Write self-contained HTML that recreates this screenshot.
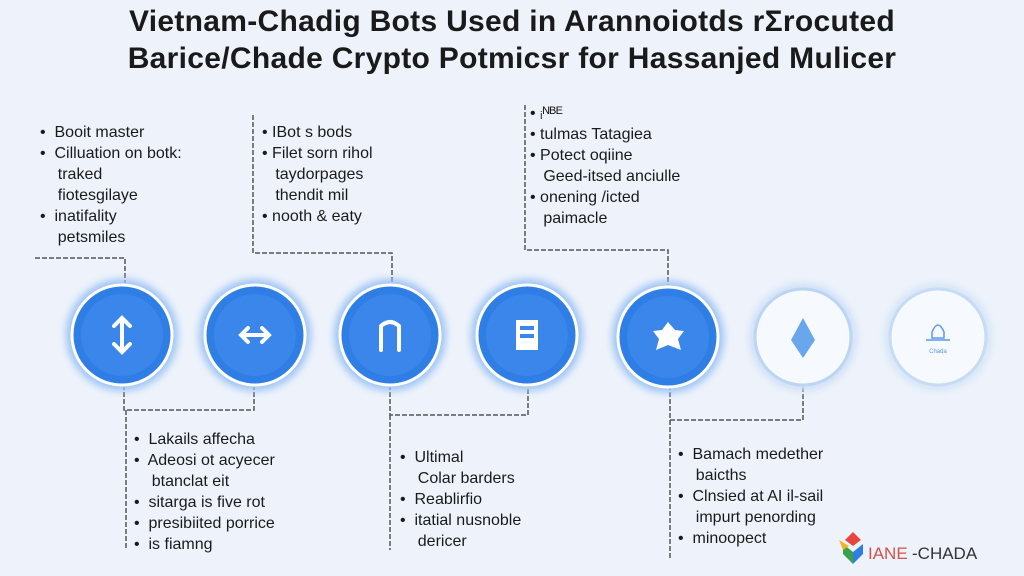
<!DOCTYPE html>
<html><head><style>
body{margin:0;width:1024px;height:576px;background:#eef3fb;font-family:"Liberation Sans",sans-serif;overflow:hidden;position:relative}
h1{position:absolute;top:0;left:0;width:1024px;margin:0;text-align:center;font-size:30px;line-height:37px;font-weight:bold;color:#1a1a1a;padding-top:3px;letter-spacing:0.3px}
.t{position:absolute;font-size:16px;line-height:21px;color:#1a1a1a}
</style></head><body>
<h1>Vietnam-Chadig Bots Used in Arannoiotds rΣrocuted<br>Barice/Chade Crypto Potmicsr for Hassanjed Mulicer</h1>
<svg width="1024" height="576" style="position:absolute;left:0;top:0">
<defs><filter id="g"><feGaussianBlur stdDeviation="4"/></filter></defs>
<g fill="none" stroke="#555" stroke-width="1.5" stroke-dasharray="5,2">
<path d="M35 258H125V285"/><path d="M253 115V253H392V285"/><path d="M525 105V250H668V285"/>
<path d="M124 385V410H254V385"/><path d="M126 410V550"/>
<path d="M390 385V415H528V385"/><path d="M390 415V550"/>
<path d="M670 385V420H803V385"/><path d="M670 420V560"/>
</g>
<g>
<circle cx="122" cy="335" r="56" fill="#9cc3f5" filter="url(#g)"/><circle cx="122" cy="335" r="50" fill="#2f7ee6" stroke="#fff" stroke-width="3"/><circle cx="122" cy="335" r="41" fill="#3a86ea"/>
<circle cx="255" cy="335" r="56" fill="#9cc3f5" filter="url(#g)"/><circle cx="255" cy="335" r="50" fill="#2f7ee6" stroke="#fff" stroke-width="3"/><circle cx="255" cy="335" r="41" fill="#3a86ea"/>
<circle cx="390" cy="335" r="56" fill="#9cc3f5" filter="url(#g)"/><circle cx="390" cy="335" r="50" fill="#2f7ee6" stroke="#fff" stroke-width="3"/><circle cx="390" cy="335" r="41" fill="#3a86ea"/>
<circle cx="527" cy="335" r="56" fill="#9cc3f5" filter="url(#g)"/><circle cx="527" cy="335" r="50" fill="#2f7ee6" stroke="#fff" stroke-width="3"/><circle cx="527" cy="335" r="41" fill="#3a86ea"/>
<circle cx="668" cy="337" r="56" fill="#9cc3f5" filter="url(#g)"/><circle cx="668" cy="337" r="50" fill="#2f7ee6" stroke="#fff" stroke-width="3"/><circle cx="668" cy="337" r="41" fill="#3a86ea"/>
<circle cx="803" cy="337" r="54" fill="#cfe0f7" filter="url(#g)"/><circle cx="803" cy="337" r="48" fill="#f6f9fe" stroke="#bcd5f3" stroke-width="3"/>
<circle cx="938" cy="337" r="54" fill="#d6e5f8" filter="url(#g)"/><circle cx="938" cy="337" r="48" fill="#f6f9fe" stroke="#c6dbf4" stroke-width="3"/>
</g>
<g stroke="#fff" stroke-width="4" fill="none" stroke-linecap="round">
<path d="M122 318V352M114 326L122 318L130 326M114 344L122 352L130 344"/>
<path d="M242 335H268M248 328L241 335L248 342M262 328L269 335L262 342"/>
<path d="M381 350V326Q390 318 399 326V350"/>
</g>
<rect x="516" y="320" width="22" height="30" fill="#fff"/><rect x="520" y="326" width="14" height="4" fill="#3a86ea"/><rect x="520" y="334" width="14" height="4" fill="#3a86ea"/>
<polygon points="668,322 675,330 684,331 678,339 681,350 668,345 656,350 659,339 653,331 662,330" fill="#fff"/>
<polygon points="803,318 815,340 803,358 791,340" fill="#6aa6ec"/>
<path d="M932 332Q938 318 944 332V338H932Z M926 340H950" stroke="#5c9be6" stroke-width="1.5" fill="none"/>
<text x="938" y="353" font-size="6" fill="#5c9be6" text-anchor="middle">Chada</text>
<g transform="translate(843,532)"><polygon points="10,0 18,8 10,14 2,8" fill="#e8453c"/><polygon points="0,12 10,20 10,32 0,22" fill="#3aa04a"/><polygon points="20,12 10,20 10,32 20,22" fill="#2f7ee6"/><polygon points="-4,8 6,14 0,18" fill="#f0b429"/></g>
<text x="868" y="559" font-size="17" fill="#d4504a" font-family="Liberation Sans">IANE</text><text x="912" y="559" font-size="17" fill="#333" font-family="Liberation Sans">-CHADA</text>
</svg>
<div class="t" style="left:40px;top:122px">•&nbsp; Booit master<br>•&nbsp; Cilluation on botk:<br>&nbsp;&nbsp;&nbsp;&nbsp;traked<br>&nbsp;&nbsp;&nbsp;&nbsp;fiotesgilaye<br>•&nbsp; inatifality<br>&nbsp;&nbsp;&nbsp;&nbsp;petsmiles</div>
<div class="t" style="left:262px;top:122px">• IBot s bods<br>• Filet sorn rihol<br>&nbsp;&nbsp;&nbsp;taydorpages<br>&nbsp;&nbsp;&nbsp;thendit mil<br>• nooth &amp; eaty</div>
<div class="t" style="left:530px;top:103px;line-height:21px">• ᵢᴺᴮᴱ<br>• tulmas Tatagiea<br>• Potect oqiine<br>&nbsp;&nbsp;&nbsp;Geed-itsed anciulle<br>• onening /icted<br>&nbsp;&nbsp;&nbsp;paimacle</div>
<div class="t" style="left:134px;top:429px">•&nbsp; Lakails affecha<br>•&nbsp; Adeosi ot acyecer<br>&nbsp;&nbsp;&nbsp;&nbsp;btanclat eit<br>•&nbsp; sitarga is five rot<br>•&nbsp; presibiited porrice<br>•&nbsp; is fiamng</div>
<div class="t" style="left:400px;top:447px">•&nbsp; Ultimal<br>&nbsp;&nbsp;&nbsp;&nbsp;Colar barders<br>•&nbsp; Reablirfio<br>•&nbsp; itatial nusnoble<br>&nbsp;&nbsp;&nbsp;&nbsp;dericer</div>
<div class="t" style="left:678px;top:444px">•&nbsp; Bamach medether<br>&nbsp;&nbsp;&nbsp;&nbsp;baicths<br>•&nbsp; Clnsied at AI il-sail<br>&nbsp;&nbsp;&nbsp;&nbsp;impurt penording<br>•&nbsp; minoopect</div>
</body></html>
